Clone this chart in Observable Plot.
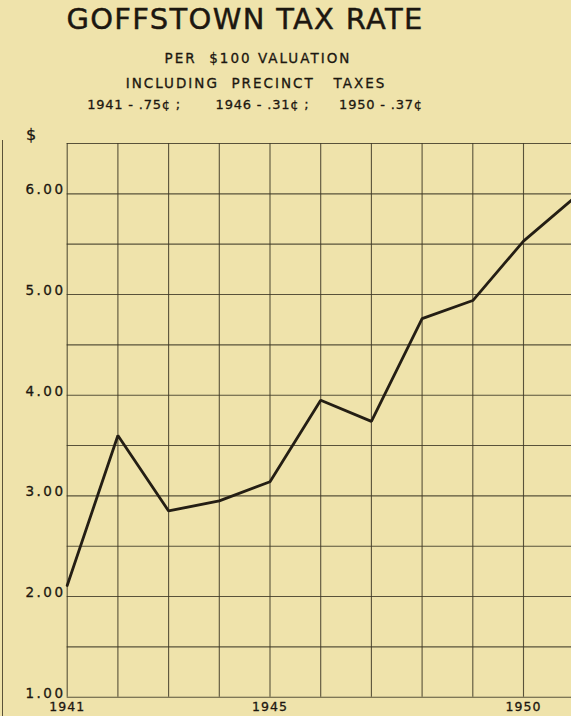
<!DOCTYPE html>
<html>
<head>
<meta charset="utf-8">
<script src="https://cdn.jsdelivr.net/npm/d3@7"></script>
<script src="https://cdn.jsdelivr.net/npm/@observablehq/plot@0.6"></script>
<style>
  html, body { margin: 0; padding: 0; background: #EFE3AB; }
  #wrap { position: relative; width: 571px; height: 716px; overflow: hidden; background: #EFE3AB; font-family: "DejaVu Sans", sans-serif; color: #1c1710; }
  .hd { position: absolute; white-space: pre; transform: translateX(-50%); line-height: 1; -webkit-text-stroke: 0.3px #1c1710; }
  #title { top: 5px; left: 245px; font-size: 29px; letter-spacing: 1.3px; -webkit-text-stroke: 0.45px #1c1710; }
  #sub1 { top: 52px; left: 258px; font-size: 13.5px; letter-spacing: 2px; }
  #sub2 { top: 77px; left: 256px; font-size: 13.5px; letter-spacing: 2px; }
  #sub3 { top: 98px; left: 255px; font-size: 13px; letter-spacing: 0.8px; }
  #dollar { position: absolute; top: 125px; left: 26px; font-size: 16px; -webkit-text-stroke: 0.3px #1c1710; }
  #edge { position: absolute; left: 2px; top: 140px; width: 1.2px; height: 576px; background: #5a5238; }
  #chart { position: absolute; top: 100px; left: 0; }
  #chart svg text { fill: #1c1710; stroke: #1c1710; stroke-width: 0.3px; }
  #chart g[aria-label="y-axis tick label"] text { letter-spacing: 2.5px; }
  #chart g[aria-label="x-axis tick label"] text { letter-spacing: 1px; }
</style>
</head>
<body>
<div id="wrap">
  <div class="hd" id="title">GOFFSTOWN TAX RATE</div>
  <div class="hd" id="sub1">PER  $100 VALUATION</div>
  <div class="hd" id="sub2">INCLUDING  PRECINCT   TAXES</div>
  <div class="hd" id="sub3">1941 - .75¢ ;       1946 - .31¢ ;      1950 - .37¢</div>
  <div id="dollar">$</div>
  <div id="edge"></div>
  <div id="chart"></div>
</div>
<script>
const years = [1941, 1942, 1943, 1944, 1945, 1946, 1947, 1948, 1949, 1950, 1951];
const rates = [2.11, 3.60, 2.85, 2.95, 3.14, 3.95, 3.74, 4.76, 4.94, 5.53, 5.96];
const yTickValues = [1, 2, 3, 4, 5, 6];
const yGridValues = [1, 1.5, 2, 2.5, 3, 3.5, 4, 4.5, 5, 5.5, 6, 6.5];
const xTickValues = [1941, 1945, 1950];

const data = years.map((year, i) => ({year, rate: rates[i]}));

const chart = Plot.plot({
  width: 571,
  height: 616,
  marginTop: 43,
  marginLeft: 67,
  marginRight: 0,
  marginBottom: 19,
  style: {background: "transparent", fontFamily: "DejaVu Sans, sans-serif", overflow: "visible"},
  x: {domain: [1941, 1951], range: [66.7, 573.7]},
  y: {domain: [1, 6.5], range: [596.7, 43]},
  marks: [
    Plot.ruleY(yGridValues, {x1: 1941, x2: 1951, stroke: "#3e3826", strokeWidth: 1.1, strokeOpacity: 0.85}),
    Plot.ruleX(years, {y1: 1, y2: 6.5, stroke: "#3e3826", strokeWidth: 1.1, strokeOpacity: 0.85}),
    Plot.line(data, {x: "year", y: "rate", stroke: "#241e14", strokeWidth: 2.8, strokeLinejoin: "miter"}),
    Plot.axisY(yTickValues, {tickSize: 0, tickPadding: 2, tickFormat: d => d.toFixed(2), fontSize: 13.5, dy: -4, label: null}),
    Plot.axisX(xTickValues, {tickSize: 0, tickPadding: 5, tickFormat: d => String(d), fontSize: 12.5, label: null})
  ]
});
document.getElementById("chart").appendChild(chart);
</script>
</body>
</html>
